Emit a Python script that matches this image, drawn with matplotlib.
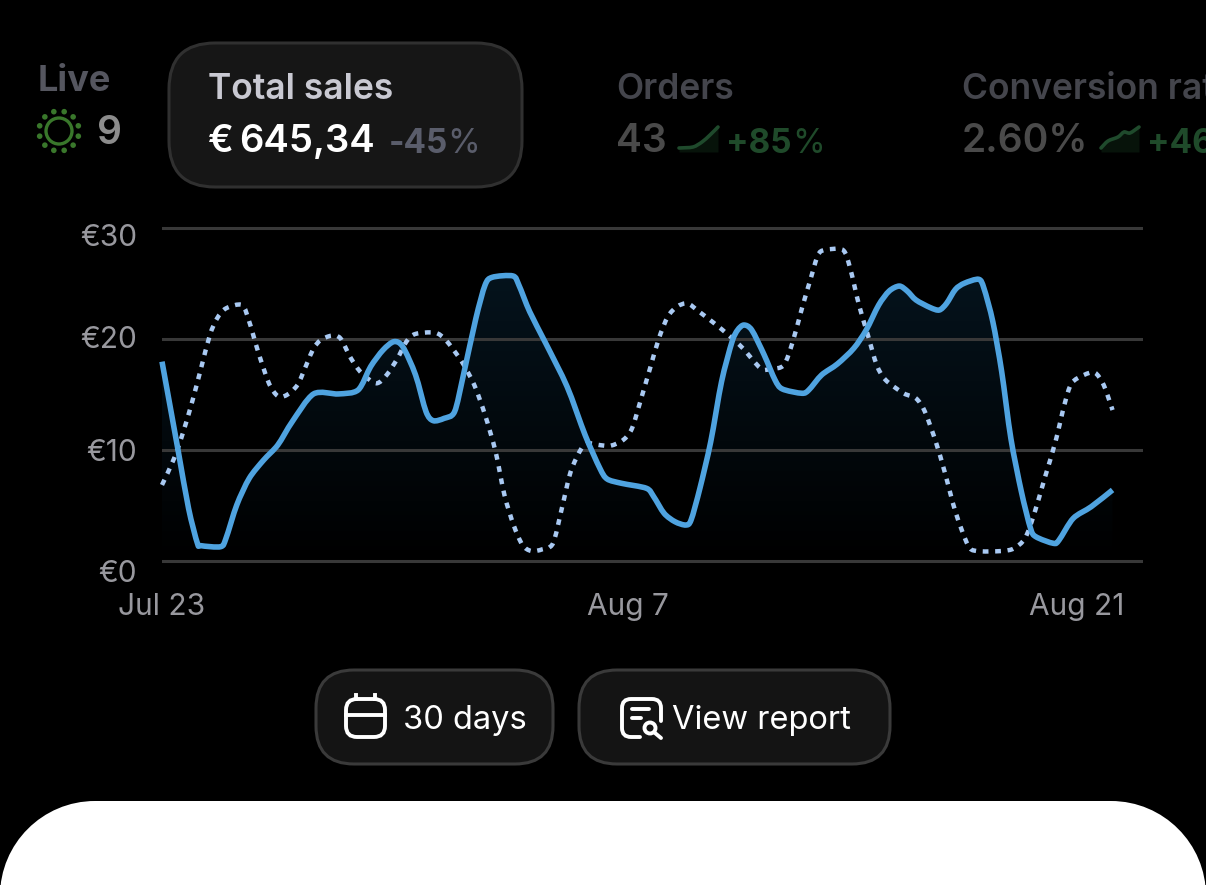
import matplotlib
matplotlib.use("Agg")
import matplotlib.pyplot as plt
import numpy as np
from matplotlib.colors import LinearSegmentedColormap
from matplotlib.patches import Circle, FancyBboxPatch, PathPatch
from matplotlib.path import Path
from matplotlib.transforms import ScaledTranslation

W, H = 1206, 885

# current period, days since Jul 23
solid_days = [0, 0.48, 0.81, 1.08, 1.19, 1.79, 1.95, 2.28, 2.66, 3.10, 3.53, 3.97, 4.62, 5.38, 5.98,
              6.36, 6.74, 7.07, 7.34, 7.73, 8.05, 8.27, 8.60, 8.92, 9.19, 9.57, 9.85, 10.07, 10.70,
              10.88, 11.21, 11.70, 12.35, 12.90, 13.35, 13.57, 14.01, 14.77, 14.99, 15.31, 15.64,
              15.97, 16.13, 16.40, 16.73, 17.06, 17.38, 17.55, 17.74, 17.98, 18.36, 18.69, 18.91,
              19.51, 19.72, 20.11, 20.59, 21.09, 21.47, 21.85, 22.17, 22.48, 22.72, 22.99, 23.43,
              23.70, 23.92, 24.19, 24.46, 24.90, 25.06, 25.33, 25.60, 25.88, 26.20, 26.48, 26.64,
              27.18, 27.35, 27.78, 28.33, 28.98]
solid_sales = [17.96, 10.15, 4.74, 1.59, 1.38, 1.29, 2.04, 5.05, 7.45, 9.10, 10.45, 12.55, 15.05, 15.05,
               15.41, 17.51, 19.01, 19.76, 19.31, 16.76, 13.45, 12.64, 12.85, 13.45, 16.76, 21.86,
               24.86, 25.56, 25.68, 24.86, 22.46, 19.61, 15.71, 11.35, 8.35, 7.39, 7.00, 6.55, 5.80,
               4.29, 3.54, 3.24, 3.69, 6.55, 10.75, 16.16, 19.76, 20.81, 21.26, 20.81, 18.56, 16.31,
               15.50, 15.11, 15.41, 16.76, 17.75, 19.16, 20.81, 23.06, 24.32, 24.77, 24.32, 23.51,
               22.82, 22.61, 23.21, 24.47, 25.02, 25.38, 24.56, 21.56, 17.06, 11.05, 6.25, 2.94,
               2.19, 1.59, 1.89, 3.84, 4.89, 6.40]

# previous period
dotted_days = [0, 0.37, 0.65, 0.92, 1.19, 1.46, 1.68, 1.95, 2.44, 2.66, 2.93, 3.26, 3.53, 3.80, 4.13,
               4.40, 4.62, 4.84, 5.17, 5.44, 5.76, 6.09, 6.53, 6.85, 7.18, 7.45, 7.72, 8.32, 8.65,
               9.14, 9.52, 9.85, 10.17, 10.44, 10.72, 10.99, 11.26, 11.59, 11.92, 12.19, 12.46,
               12.79, 13.01, 13.33, 13.68, 14.06, 14.33, 14.61, 14.88, 15.15, 15.42, 15.70, 16.02,
               16.35, 16.84, 17.27, 17.71, 18.25, 18.58, 18.96, 19.23, 19.51, 19.78, 20.00, 20.21,
               20.76, 20.98, 21.25, 21.52, 21.79, 22.06, 22.61, 22.99, 23.26, 23.59, 23.86, 24.19,
               24.57, 24.84, 25.60, 25.98, 26.31, 26.58, 26.91, 27.24, 27.51, 27.73, 28.11, 28.44,
               28.71, 28.98]
dotted_sales = [6.85, 9.25, 11.65, 14.35, 17.36, 20.36, 21.86, 22.76, 23.06, 21.56, 18.86, 16.01, 14.86,
                14.95, 15.86, 17.66, 19.16, 19.91, 20.30, 20.06, 18.26, 16.91, 16.01, 16.76, 18.26,
                19.76, 20.45, 20.57, 19.91, 17.96, 15.86, 13.15, 9.85, 5.95, 3.24, 1.44, 0.90, 1.05,
                1.59, 4.74, 8.05, 10.15, 10.60, 10.45, 10.39, 10.90, 11.95, 14.65, 17.36, 20.06,
                22.01, 22.91, 23.21, 22.52, 21.41, 20.36, 19.16, 17.36, 17.30, 17.66, 19.76, 22.76,
                25.47, 27.57, 28.02, 28.02, 26.37, 23.06, 20.36, 17.66, 16.31, 15.11, 14.65, 13.45,
                10.75, 8.05, 4.44, 1.44, 0.90, 0.90, 1.14, 2.04, 4.14, 7.45, 10.75, 14.05, 16.01,
                16.76, 16.97, 15.86, 13.60]

y_ticks = [0, 10, 20, 30]
y_labels = ["€0", "€10", "€20", "€30"]
x_ticks = [0, 14.2, 27.9]
x_labels = ["Jul 23", "Aug 7", "Aug 21"]

# small sparklines in the header, in pixels of the screenshot
orders_spark_x = [679, 693, 702, 710, 718]
orders_spark_y = [148, 147, 142, 135, 127]
conv_spark_x = [1101, 1108, 1118, 1124, 1130, 1139]
conv_spark_y = [148, 141, 137, 132, 133, 127]

plt.rcParams["font.family"] = ["Inter", "DejaVu Sans"]

fig = plt.figure(figsize=(W / 100, H / 100), dpi=100, facecolor="black")

# background layer uses screenshot pixels
ui = fig.add_axes([0, 0, 1, 1], zorder=1)
ui.set_xlim(0, W)
ui.set_ylim(H, 0)
ui.axis("off")


def pill(x0, y0, x1, y1, r, fc, ec, lw=2):
    ui.add_patch(FancyBboxPatch((x0, y0), x1 - x0, y1 - y0, boxstyle=f"round,pad=0,rounding_size={r}",
                                fc=fc, ec=ec, lw=lw))


def label(x, y, s, size, color, weight="normal"):
    ui.text(x, y, s, fontsize=size, color=color, fontweight=weight, ha="left", va="baseline")


def smooth_path(xs, ys, k=1 / 7):
    """ Bezier path through the points, the way the chart rounds its line """
    pts = np.column_stack([xs, ys])
    prev_pts = np.vstack([pts[0], pts[:-1]])
    next_pts = np.vstack([pts[1:], pts[-1]])
    tangents = (next_pts - prev_pts) * k
    verts = [pts[0]]
    codes = [Path.MOVETO]
    for i in range(len(pts) - 1):
        verts += [pts[i] + tangents[i], pts[i + 1] - tangents[i + 1], pts[i + 1]]
        codes += [Path.CURVE4] * 3
    return Path(verts, codes)


def spark(xs, ys):
    ui.fill_between(xs, ys, 152, color="#07130a", lw=0)
    ui.add_patch(PathPatch(smooth_path(xs, ys), fc="none", ec="#1f4a2c", lw=2.6, capstyle="round"))


# header
label(38, 91, "Live", 26, "#55565f", "bold")
label(97, 144, "9", 28, "#8c8c8c", "semibold")
ui.add_patch(Circle((59, 131), 13, fc="none", ec="#39772b", lw=2.4))
for a in np.arange(12) * np.pi / 6 + np.pi / 12:
    ui.add_patch(Circle((59 + 20 * np.cos(a), 131 + 20 * np.sin(a)), 2.8, fc="#39772b", ec="none"))

pill(169, 43, 522, 187, 46, "#161616", "#303030", 2.2)
label(208, 99, "Total sales", 25.5, "#c9c9d2", "semibold")
label(208, 152, "€", 27.5, "white", "semibold")
label(239, 152, "645,34", 27.5, "white", "semibold")
label(389, 153, "-45", 24, "#5a5d6b", "bold")
label(447, 153, "%", 24, "#5a5d6b")

label(616, 99, "Orders", 25.5, "#44454c", "semibold")
label(616, 152, "43", 28, "#4a4a4a", "semibold")
spark(orders_spark_x, orders_spark_y)
label(726, 153, "+85", 24, "#1f4a2a", "bold")
label(792, 153, "%", 24, "#1f4a2a")

label(962, 99, "Conversion rate", 25.5, "#44454c", "semibold")
label(962, 152, "2.60%", 28, "#4a4a4a", "semibold")
spark(conv_spark_x, conv_spark_y)
label(1147, 153, "+46%", 24, "#1f4a2a", "bold")

# buttons
pill(316, 670, 553, 764, 38, "#141414", "#3a3a3a", 2.2)
pill(579, 670, 890, 764, 38, "#141414", "#3a3a3a", 2.2)
label(403, 729, "30 days", 23.5, "white")
label(672, 729, "View report", 23.5, "white")

# calendar icon
icon_lw = 2.8
pill(346, 699, 385, 737, 11, "none", "white", icon_lw)
ui.plot([346, 385], [715, 715], color="white", lw=icon_lw)
ui.plot([356, 356], [695, 699], color="white", lw=icon_lw)
ui.plot([375, 375], [695, 699], color="white", lw=icon_lw)
# report icon
frame = Path([(640, 737), (631, 737), (622, 737), (622, 728), (622, 708), (622, 699), (631, 699),
              (652, 699), (661, 699), (661, 708), (661, 721)],
             [Path.MOVETO, Path.LINETO, Path.CURVE3, Path.CURVE3, Path.LINETO, Path.CURVE3, Path.CURVE3,
              Path.LINETO, Path.CURVE3, Path.CURVE3, Path.LINETO])
ui.add_patch(PathPatch(frame, fc="none", ec="white", lw=icon_lw, capstyle="round"))
ui.plot([632, 649], [709, 709], color="white", lw=icon_lw, solid_capstyle="round")
ui.plot([632, 641], [718, 718], color="white", lw=icon_lw, solid_capstyle="round")
ui.add_patch(Circle((650, 728), 5.5, fc="none", ec="white", lw=icon_lw))
ui.plot([655, 661], [733, 738], color="white", lw=icon_lw, solid_capstyle="round")

# bottom sheet, real circular corners
r = 95
c = r * 0.448
sheet = Path([(0, 900), (0, 801 + r), (0, 801 + c), (c, 801), (r, 801), (W - r, 801), (W - c, 801),
              (W, 801 + c), (W, 801 + r), (W, 900), (0, 900)],
             [Path.MOVETO, Path.LINETO, Path.CURVE4, Path.CURVE4, Path.CURVE4, Path.LINETO, Path.CURVE4,
              Path.CURVE4, Path.CURVE4, Path.LINETO, Path.CLOSEPOLY])
ui.add_patch(PathPatch(sheet, fc="white", ec="none"))

# chart, 11.1 px per euro with room round the 0 and 30 lines
y_pad = 1.0
px_per_euro = 11.1
top_px = 228 - y_pad * px_per_euro
bottom_px = 561 + y_pad * px_per_euro
ax = fig.add_axes([162 / W, (H - bottom_px) / H, 981 / W, (bottom_px - top_px) / H], zorder=2)
ax.patch.set_alpha(0)
for s in ax.spines.values():
    s.set_visible(False)

ax.set_yticks(y_ticks, y_labels)
ax.set_xticks(x_ticks, x_labels)
ax.tick_params(axis="y", length=0, labelsize=21.5, labelcolor="#98989e", pad=18)
ax.tick_params(axis="x", length=0, labelsize=21.5, labelcolor="#98989e", pad=15)
ax.grid(axis="y", color="#383838", lw=2.2, zorder=1.6)
ax.set_axisbelow("line")

# labels do not sit on their lines in the reference: offsets in px for 0, 10, 20, 30
label_shift = [10, 0, -2, 7]
for t, dy in zip(ax.get_yticklabels(), label_shift):
    t.set_transform(t.get_transform() + ScaledTranslation(0, -dy / 100, fig.dpi_scale_trans))

# gradient under the current period
cmap = LinearSegmentedColormap.from_list("under", ["#000000", "#05141e"])
area = ax.fill_between(solid_days, solid_sales, 0, color="none", lw=0)
grad = ax.imshow(np.linspace(1, 0, 256).reshape(-1, 1), extent=(0, 29, 0, 27), aspect="auto",
                 cmap=cmap, vmin=0, vmax=1, zorder=1)
grad.set_clip_path(area.get_paths()[0], transform=ax.transData)
ax.set_xlim(0, 981 / 32.8)
ax.set_ylim(-y_pad, 30 + y_pad)

ax.add_patch(PathPatch(smooth_path(dotted_days, dotted_sales), fc="none", ec="#a9c9f2", lw=3.2,
                       linestyle=(0, (1.3, 1.5)), capstyle="butt", zorder=3, clip_on=False))
ax.add_patch(PathPatch(smooth_path(solid_days, solid_sales), fc="none", ec="#4fa3e0", lw=4,
                       joinstyle="round", capstyle="butt", zorder=4, clip_on=False))

fig.savefig("out.png", dpi=100, facecolor=fig.get_facecolor())
